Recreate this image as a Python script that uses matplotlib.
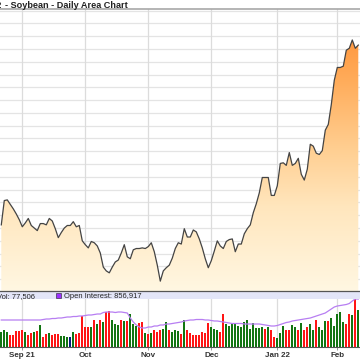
"""Soybean daily area chart with volume / open interest panel."""
import matplotlib
matplotlib.use("Agg")
import numpy as np
import pandas as pd
import matplotlib.pyplot as plt
from matplotlib.colors import LinearSegmentedColormap
from matplotlib.patches import Rectangle

# trading days shown (Aug 23 2021 .. Feb 10 2022, exchange holidays removed)
holidays = ["2021-09-06", "2021-11-25", "2021-12-24", "2022-01-17"]
days = pd.bdate_range("2021-08-23", "2022-02-10", freq="C", holidays=holidays)

tick_labels = ["Sep 21", "Oct", "Nov", "Dec", "Jan 22", "Feb"]

# daily close (cents/bu)
close = [1305, 1343, 1344, 1337, 1330, 1322, 1313, 1302, 1308, 1315,
         1304, 1300, 1296, 1307, 1307, 1305, 1315, 1311, 1299, 1285,
         1293, 1300, 1304, 1304, 1310, 1302, 1304, 1280, 1274, 1269,
         1279, 1277, 1272, 1261, 1239, 1233, 1230, 1239, 1247, 1250,
         1261, 1274, 1255, 1252, 1266, 1268, 1268, 1269, 1268, 1271,
         1277, 1263, 1242, 1217, 1233, 1238, 1242, 1253, 1268, 1277,
         1275, 1299, 1286, 1286, 1297, 1294, 1283, 1269, 1252, 1238,
         1249, 1264, 1280, 1272, 1268, 1279, 1282, 1283, 1263, 1275,
         1275, 1291, 1299, 1305, 1324, 1338, 1355, 1379, 1379, 1379,
         1351, 1351, 1366, 1401, 1402, 1398, 1418, 1398, 1401, 1409,
         1384, 1375, 1392, 1431, 1428, 1417, 1415, 1421, 1453, 1462,
         1493, 1531, 1551, 1551, 1553, 1578, 1581, 1594, 1581, 1586]

# daily volume (thousand contracts) and bar colour code (g up, r down, b unch)
volume = [75, 87, 75, 58, 58, 80, 80, 87, 75, 58,
          70, 75, 80, 108, 50, 63, 70, 62, 63, 67,
          53, 53, 50, 50, 75, 67, 70, 153, 100, 100,
          100, 137, 117, 137, 125, 175, 180, 137, 117, 108,
          133, 130, 130, 167, 117, 103, 120, 123, 70, 67,
          70, 83, 75, 87, 92, 125, 83, 75, 87, 80,
          67, 133, 87, 70, 58, 58, 58, 75, 72, 120,
          100, 92, 87, 75, 167, 117, 103, 117, 113, 103,
          100, 125, 137, 92, 120, 95, 97, 100, 92, 100,
          83, 50, 47, 70, 103, 83, 87, 112, 100, 87,
          120, 83, 100, 117, 87, 133, 100, 87, 128, 130,
          147, 103, 163, 175, 125, 117, 167, 162, 258, 183]
vol_dir = list("gggrrrrrgrrgrgrrgrrrgggbgrrrrrgrgrgrrgggrgrgggrrgrgrrrggrggg"
               "rgrrrrrrrrgggrrgggggggggggggrgrrgggrrggrgrrggrgggrgggggrrgrgrg")

# open interest (thousand contracts)
oi = [769, 769, 769, 769, 769, 769, 769, 769, 769, 769,
      769, 769, 769, 769, 771, 773, 773, 775, 775, 777,
      777, 779, 781, 781, 783, 783, 785, 785, 787, 789,
      789, 791, 793, 793, 799, 801, 801, 801, 799, 801,
      801, 799, 797, 777, 761, 749, 741, 737, 737, 741,
      741, 745, 745, 749, 749, 753, 753, 755, 757, 759,
      761, 765, 767, 769, 769, 771, 771, 771, 769, 769,
      767, 765, 765, 763, 761, 759, 757, 755, 755, 755,
      755, 753, 753, 753, 753, 753, 753, 751, 749, 747,
      745, 745, 747, 751, 755, 759, 761, 765, 767, 769,
      771, 773, 775, 777, 781, 785, 789, 793, 797, 805,
      813, 821, 825, 827, 829, 831, 835, 845, 853, 853]

x = np.arange(len(days))
month_starts = [i for i in range(1, len(days)) if days[i].month != days[i - 1].month]
xlim = (-0.43, len(days) - 0.43)
ymin, ymax = 1201.6, 1642.4

W = 360.0
fig = plt.figure(figsize=(3.6, 3.6), dpi=100)
ax = fig.add_axes([0, (W - 291) / W, 1, 282 / W])
axv = fig.add_axes([0, (W - 347) / W, 1, 48 / W])

# --- price panel
cmap = LinearSegmentedColormap.from_list(
    "soy", [(0.0, "#fff7e2"), (0.3, "#ffe6bd"), (0.5, "#ffcf92"),
            (0.75, "#ffac5a"), (1.0, "#ff8a2c")])
poly = ax.fill_between(x, close, ymin, facecolor="none", lw=0)
grad = np.linspace(0, 1, 256).reshape(-1, 1)
im = ax.imshow(grad, extent=[xlim[0], xlim[1], ymin, ymax], origin="lower",
               aspect="auto", cmap=cmap, zorder=1)
im.set_clip_path(poly.get_paths()[0], transform=ax.transData)
ax.plot(x, close, color="#444444", lw=0.9, zorder=3)

for g in np.arange(1220, ymax, 20):
    ax.axhline(g, color="#e4e4e4", lw=0.9, zorder=0)
for m in month_starts:
    ax.axvline(m, color="#dcdcdc", lw=0.9, zorder=0)
ax.set_xlim(*xlim)
ax.set_ylim(ymin, ymax)
ax.set_xticks([])
ax.set_yticks([])
for s in ["left", "right", "bottom"]:
    ax.spines[s].set_visible(False)
ax.spines["top"].set_color("#a8a8a8")
ax.spines["top"].set_linewidth(1.2)

fig.text(2 / W, 1 - 7.6 / W, "ZSH22", ha="right", va="baseline",
         fontsize=6.6, fontweight="bold", family="Liberation Sans", color="#222222")
fig.text(5 / W, 1 - 7.6 / W, "- Soybean - Daily Area Chart", ha="left", va="baseline",
         fontsize=6.6, fontweight="bold", family="Liberation Sans", color="#222222")

# --- legend band between panels
fig.patches.append(Rectangle((0, (W - 299) / W), 1, 8 / W, transform=fig.transFigure,
                             facecolor="#e3e5f8", edgecolor="none", zorder=0))
fig.lines.append(plt.Line2D([0, 1], [(W - 291) / W] * 2, transform=fig.transFigure,
                            color="#555555", lw=0.9))
fig.text(-3 / W, 1 - 297.6 / W, "Vol: 77,506", ha="left", va="baseline",
         fontsize=5.4, family="Liberation Sans", color="#222222")
fig.patches.append(Rectangle((56 / W, 1 - 298 / W), 5 / W, 5 / W, transform=fig.transFigure,
                             facecolor="#9b30ff", edgecolor="#222222", lw=0.4))
fig.text(64 / W, 1 - 297.6 / W, "Open Interest: 856,917", ha="left", va="baseline",
         fontsize=5.4, family="Liberation Sans", color="#222222")

# --- volume panel
colors = {"g": "#127512", "r": "#ff1515", "b": "#0a1a80"}
axv.bar(x, volume, width=0.78, color=[colors[c] for c in vol_dir], zorder=2)
for m in month_starts:
    axv.axvline(m, color="#dcdcdc", lw=0.9, zorder=0)
axv.set_xlim(*xlim)
axv.set_ylim(0, 240)
axv.set_yticks([])
axv.set_xticks(month_starts)
axv.set_xticklabels(tick_labels, fontsize=5.8, fontweight="bold",
                    family="Liberation Sans", color="#333333")
axv.tick_params(axis="x", length=2, width=0.6, pad=1.5, color="#888888")
for s in ["left", "right", "top"]:
    axv.spines[s].set_visible(False)
axv.spines["bottom"].set_color("#555555")
axv.spines["bottom"].set_linewidth(0.8)

axo = axv.twinx()
axo.plot(x, oi, color="#b77ef2", lw=0.9, zorder=3)
axo.set_ylim(2049 - 4 * 347, 2049 - 4 * 299)
axo.set_yticks([])
for s in axo.spines.values():
    s.set_visible(False)

fig.savefig("out.png", dpi=100)
